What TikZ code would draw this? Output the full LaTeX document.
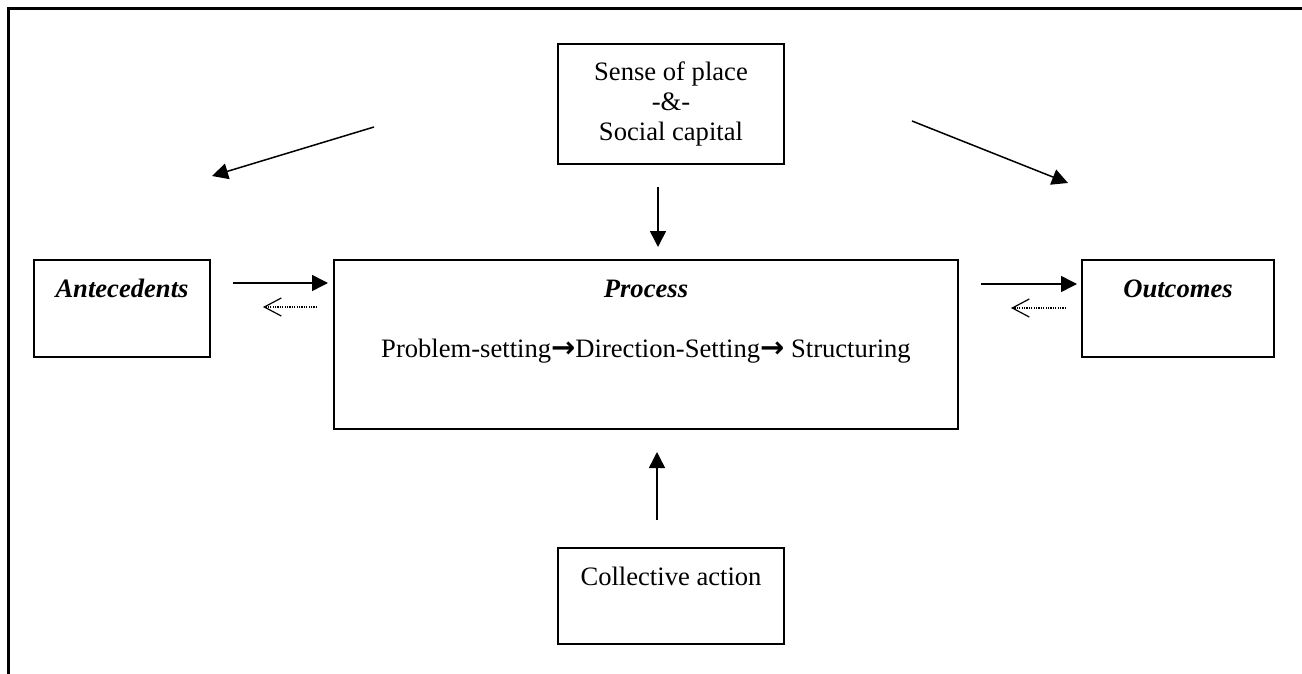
\documentclass[tikz,border=0pt]{standalone}
\usepackage{fontspec}
\setmainfont{Liberation Serif}
\newfontfamily\arrowfont{DejaVu Sans}
\usetikzlibrary{arrows.meta, positioning}

\newcommand{\stepto}{{\arrowfont\bfseries\fontsize{14.5}{15.3}\selectfont →}}

\begin{document}
\begin{tikzpicture}[
        x=0.5pt, y=-0.5pt,
        box/.style={draw, line width=1pt, anchor=north west, inner sep=0pt, align=center, font=\fontsize{13.3}{15.1}\selectfont},
        title/.style={anchor=base, inner sep=0pt, font=\fontsize{13.3}{15.3}\selectfont\bfseries\itshape},
        txt/.style={anchor=base, inner sep=0pt, font=\fontsize{13.3}{15.3}\selectfont},
        link/.style={-{Triangle[length=8pt, width=8pt]}, line width=0.75pt},
        back/.style={-{Straight Barb[length=8.5pt, width=9pt]}, line width=0.6pt, dash pattern=on 0.6pt off 0.6pt}
    ]
        \useasboundingbox (0,0) rectangle (1302,674);

        % Frame
        \draw[line width=1.5pt] (1302,9) -- (8,9) -- (8,674);

        % Boxes
        \node[box, minimum width=113pt, minimum height=60pt] (sense) at (557,43) {Sense of place\\-\&-\\Social capital};
        \node[box, minimum width=312pt, minimum height=84.5pt] (process) at (333,259) {};
        \node[box, minimum width=88pt, minimum height=48.5pt] (ante) at (33,259) {};
        \node[box, minimum width=96pt, minimum height=48.5pt] (outc) at (1081,259) {};
        \node[box, minimum width=113pt, minimum height=48pt] (coll) at (557,547) {};

        % Box texts
        \node[title] (anteT) at ([yshift=-19pt]ante.north) {Antecedents};
        \node[title] (outcT) at ([yshift=-19pt]outc.north) {Outcomes};
        \node[title] (procT) at ([yshift=-19pt]process.north) {Process};
        \node[txt] (procS) at ([yshift=-49pt]process.north) {Problem-setting\stepto Direction-Setting\stepto\ Structuring};
        \node[txt] (collT) at ([yshift=-19pt]coll.north) {Collective action};

        % Arrow ends
        \coordinate (sTop) at (658,187);
        \coordinate (sBot) at (658,247);
        \coordinate (cBot) at (657,520);
        \coordinate (cTop) at (657,452);
        \coordinate (dlA) at (374,127);
        \coordinate (dlB) at (212,176);
        \coordinate (drA) at (912,121);
        \coordinate (drB) at (1068,183);
        \coordinate (aInA) at (233,283);
        \coordinate (aInB) at (328,283);
        \coordinate (aBkA) at (317,307);
        \coordinate (aBkB) at (263,307);
        \coordinate (oInA) at (981,284);
        \coordinate (oInB) at (1077,284);
        \coordinate (oBkA) at (1066,308);
        \coordinate (oBkB) at (1011,308);

        \draw[link] (sTop) -- (sBot);
        \draw[link] (cBot) -- (cTop);
        \draw[link] (dlA) -- (dlB);
        \draw[link] (drA) -- (drB);
        \draw[link] (aInA) -- (aInB);
        \draw[link] (oInA) -- (oInB);
        \draw[back] (aBkA) -- (aBkB); % feedback
        \draw[back] (oBkA) -- (oBkB);
    \end{tikzpicture}
\end{document}
